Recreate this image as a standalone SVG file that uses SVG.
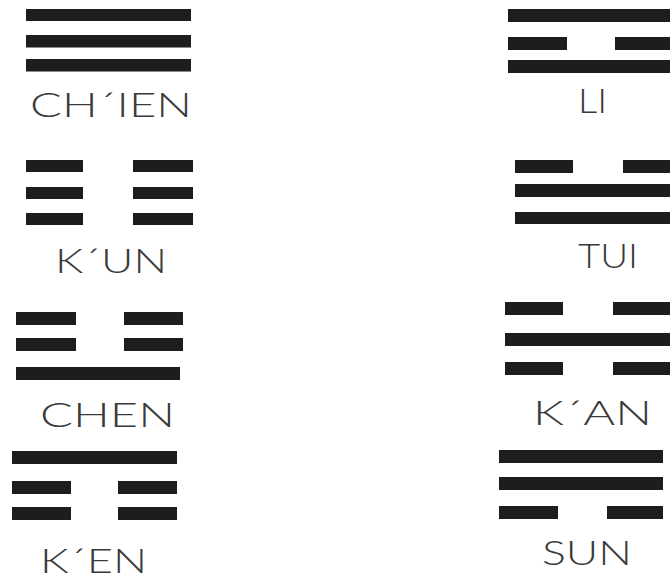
<svg xmlns="http://www.w3.org/2000/svg" width="670" height="580" viewBox="0 0 670 580">
<style>
.bar{fill:#1f1c1d}
.lbl{font-family:"Lato","Liberation Sans",sans-serif;font-weight:300;font-size:33px;fill:#3a3a3a}
</style>
<rect width="670" height="580" fill="#ffffff"/>
<g id="chien">
<rect class="bar" x="26" y="9" width="165" height="12"/>
<rect class="bar" x="26" y="35" width="165" height="12.5"/>
<rect class="bar" x="26" y="59" width="165" height="12.5"/>
<text class="lbl" x="30" y="117" textLength="162" lengthAdjust="spacingAndGlyphs">CH´IEN</text>
</g>
<g id="kun">
<rect class="bar" x="26" y="160" width="57" height="12"/>
<rect class="bar" x="133" y="160" width="60" height="12"/>
<rect class="bar" x="26" y="187" width="57" height="12"/>
<rect class="bar" x="133" y="187" width="60" height="12"/>
<rect class="bar" x="26" y="213" width="57" height="12"/>
<rect class="bar" x="133" y="213" width="60" height="12"/>
<text class="lbl" x="55" y="273" textLength="112" lengthAdjust="spacingAndGlyphs">K´UN</text>
</g>
<g id="chen">
<rect class="bar" x="16" y="312" width="60" height="13"/>
<rect class="bar" x="124" y="312" width="59" height="13"/>
<rect class="bar" x="16" y="338" width="60" height="13"/>
<rect class="bar" x="124" y="338" width="59" height="13"/>
<rect class="bar" x="16" y="367" width="164" height="13"/>
<text class="lbl" x="40" y="427" textLength="135" lengthAdjust="spacingAndGlyphs">CHEN</text>
</g>
<g id="ken">
<rect class="bar" x="12" y="451" width="165" height="13"/>
<rect class="bar" x="12" y="481" width="59" height="13"/>
<rect class="bar" x="118" y="481" width="59" height="13"/>
<rect class="bar" x="12" y="507" width="59" height="13"/>
<rect class="bar" x="118" y="507" width="59" height="13"/>
<text class="lbl" x="40" y="573" font-size="32" textLength="107" lengthAdjust="spacingAndGlyphs">K´EN</text>
</g>
<g id="li">
<rect class="bar" x="508" y="9" width="164" height="13"/>
<rect class="bar" x="508" y="37" width="59" height="13"/>
<rect class="bar" x="615" y="37" width="57" height="13"/>
<rect class="bar" x="508" y="60" width="164" height="13"/>
<text class="lbl" x="578" y="113" textLength="29" lengthAdjust="spacingAndGlyphs">LI</text>
</g>
<g id="tui">
<rect class="bar" x="515" y="160" width="58" height="13"/>
<rect class="bar" x="623" y="160" width="49" height="13"/>
<rect class="bar" x="515" y="184" width="157" height="13"/>
<rect class="bar" x="515" y="212" width="157" height="12"/>
<text class="lbl" x="578" y="268" textLength="60" lengthAdjust="spacingAndGlyphs">TUI</text>
</g>
<g id="kan">
<rect class="bar" x="505" y="302" width="58" height="13"/>
<rect class="bar" x="613" y="302" width="59" height="13"/>
<rect class="bar" x="505" y="333" width="167" height="13"/>
<rect class="bar" x="505" y="362" width="58" height="13"/>
<rect class="bar" x="613" y="362" width="59" height="13"/>
<text class="lbl" x="533" y="425" textLength="119" lengthAdjust="spacingAndGlyphs">K´AN</text>
</g>
<g id="sun">
<rect class="bar" x="499" y="450" width="164" height="13"/>
<rect class="bar" x="499" y="477" width="164" height="13"/>
<rect class="bar" x="499" y="506" width="59" height="13"/>
<rect class="bar" x="607" y="506" width="56" height="13"/>
<text class="lbl" x="542" y="565" textLength="90" lengthAdjust="spacingAndGlyphs">SUN</text>
</g>
<g id="connectors"/>
</svg>
